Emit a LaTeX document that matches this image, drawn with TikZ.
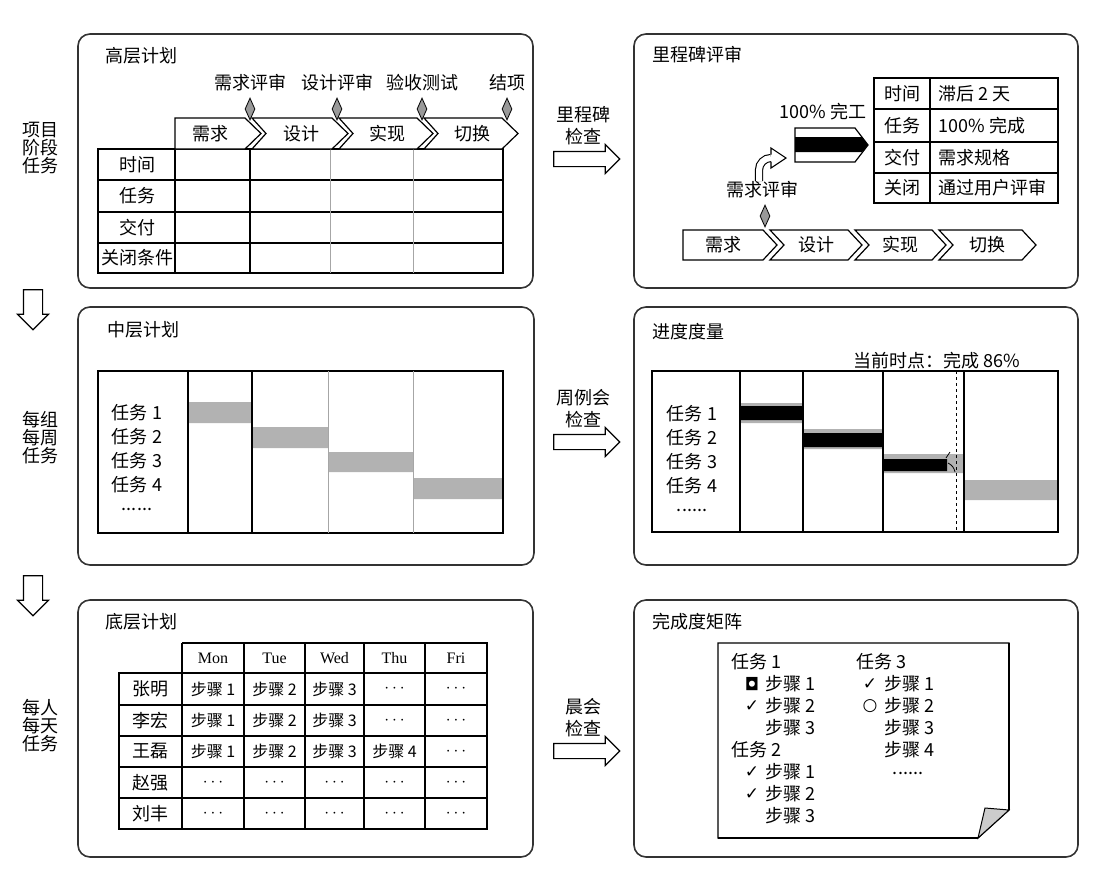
\documentclass[tikz,border=0pt]{standalone}
\usepackage{fontspec}
\setmainfont{Noto Sans CJK SC}
\newfontfamily\lat{Liberation Serif}
\newfontfamily\sym{DejaVu Sans}
\usetikzlibrary{arrows.meta,calc,positioning,shapes.geometric,shapes.arrows}
\newcommand{\dts}{$\cdots$}

\begin{document}
\begin{tikzpicture}[x=1pt, y=-1pt, >=Stealth, line width=1.2pt,
    font=\fontsize{18}{20}\selectfont,
    panel/.style={draw=black!80, line width=1.6pt, rounded corners=12pt},
    ttl/.style={anchor=west, inner sep=0pt},
    lbl/.style={align=center, inner sep=0pt, font=\fontsize{18}{18}\selectfont},
    chklbl/.style={align=center, inner sep=0pt, font=\fontsize{18}{22}\selectfont},
    ms/.style={diamond, draw, fill=gray!80, line width=0.8pt, minimum width=10pt, minimum height=22pt, inner sep=0pt},
    chk/.style={single arrow, draw, line width=1.2pt, minimum height=66pt, inner sep=7pt, single arrow head extend=7pt},
    dn/.style={chk, shape border rotate=270, minimum height=40pt, inner sep=9pt, single arrow head extend=6pt},
    cell/.style={font=\fontsize{16}{18}\selectfont},
    thin/.style={gray!70, line width=0.8pt}]
    \useasboundingbox (0,0) rectangle (1100,892);

    % left side: levels
    \node[lbl] (lv1) at (40,148) {项目\\阶段\\任务};
    \node[dn] (d1) at (33,305) {};
    \node[lbl] (lv2) at (40,438) {每组\\每周\\任务};
    \node[dn] (d2) at (33,591) {};
    \node[lbl] (lv3) at (40,726) {每人\\每天\\任务};

    % checks in the middle
    \node[chk] (ck1) at (583,159) {};
    \node[chklbl, above=5pt of ck1] (ckl1) {里程碑\\检查};
    \node[chk] (ck2) at (583,442) {};
    \node[chklbl, above=5pt of ck2] (ckl2) {周例会\\检查};
    \node[chk] (ck3) at (583,751) {};
    \node[chklbl, above=5pt of ck3] (ckl3) {晨会\\检查};

    % high level plan
    \draw[panel] (78,34) rectangle (533,288);
    \node[ttl] (t1) at (105,56) {高层计划};
    \draw (98,149) rectangle (503,273);
    \foreach \y in {180,212,243} \draw (98,\y) -- (503,\y);
    \draw (175,149) -- (175,273) (250,149) -- (250,273);
    \draw[thin] (330,149) -- (330,273) (413,149) -- (413,273);
    \foreach \t/\y [count=\i] in {时间/164.5, 任务/196, 交付/227.5, 关闭条件/258}
        \node (r\i) at (137,\y) {\t};
    \foreach \a/\b/\n/\t [count=\i] in {175/245/0/需求, 252/332/14/设计, 339/417/14/实现, 424/502/14/切换} {
        \draw[fill=white] (\a,118) -- (\b,118) -- (\b+16,133.5) -- (\b,149) -- (\a,149) -- (\a+\n,133.5) -- cycle;
        \node (ph\i) at ({(\a+\b)/2+\n*0.7},133.5) {\t};
    }
    \foreach \x/\t [count=\i] in {250/需求评审, 337/设计评审, 422/验收测试, 507/结项} {
        \node[ms] (m\i) at (\x,109) {};
        \node (ml\i) at (\x,83) {\t};
    }

    % milestone review
    \draw[panel] (634,34) rectangle (1078,288);
    \node[ttl] (t2) at (652,55) {里程碑评审};
    \draw[line width=1.6pt] (874,78) rectangle (1058,203);
    \foreach \y in {109,142,173} \draw (874,\y) -- (1058,\y);
    \draw (930,78) -- (930,203);
    \foreach \k/\v/\y [count=\i] in {时间/滞后 2 天/93.5, 任务/100\% 完成/125.5, 交付/需求规格/157.5, 关闭/通过用户评审/188} {
        \node (rk\i) at (902,\y) {\k};
        \node[anchor=west] (rv\i) at (935,\y) {\v};
    }
    \node (fin) at (823,112) {100\% 完工};
    \draw[fill=white] (795,128) -- (855,128) -- (868,145) -- (855,162) -- (795,162) -- cycle;
    \fill (795,137) -- (862,137) -- (868,145) -- (862,152) -- (795,152) -- cycle;
    \draw[double distance=6pt, line width=1.1pt] (759,181) -- (759,170) to[out=90,in=180] (771,158);
    \draw[fill=white, line width=1.1pt] (771,154.5) -- (771,148) -- (786,158) -- (771,168) -- (771,161.5);
    \node (rq) at (762,190) {需求评审};
    \node[ms] (m5) at (765,216) {};
    \foreach \a/\b/\n/\t [count=\i] in {683/763/0/需求, 770/848/14/设计, 855/932/14/实现, 939/1022/14/切换} {
        \draw[fill=white] (\a,230) -- (\b,230) -- (\b+14,245) -- (\b,260) -- (\a,260) -- (\a+\n,245) -- cycle;
        \node (pq\i) at ({(\a+\b)/2+\n*0.5},245) {\t};
    }

    % mid level plan
    \draw[panel] (78,307) rectangle (534,565);
    \node[ttl] (t3) at (107,330) {中层计划};
    \fill[gray!60] (188,402) rectangle (252,423) (252,427) rectangle (328,448)
        (328,452) rectangle (413,472) (413,478) rectangle (503,499);
    \draw (98,371) rectangle (503,533);
    \draw (188,371) -- (188,533) (252,371) -- (252,533);
    \draw[thin] (328,371) -- (328,533) (413,371) -- (413,533);
    \foreach \t [count=\i] in {任务 1, 任务 2, 任务 3, 任务 4}
        \node (pa\i) at (137,389+24*\i) {\t};
    \node (pa5) at (137,509) {......};

    % progress
    \draw[panel] (634,307) rectangle (1078,565);
    \node[ttl] (t4) at (652,332) {进度度量};
    \node (now) at (937,361) {当前时点：完成 86\%};
    \fill[gray!60] (740,403) rectangle (803,423) (803,429) rectangle (883,449)
        (883,454) rectangle (964,473) (964,480) rectangle (1058,500);
    \fill (740,406) rectangle (803,420) (803,433) rectangle (883,447) (883,459) rectangle (947,471);
    \draw (652,371) rectangle (1058,532);
    \foreach \x in {740,803,883,964} \draw (\x,371) -- (\x,532);
    \draw[dashed, line width=1pt] (956,371) -- (956,532);
    \draw[line width=0.8pt] (946,458) -- (950,452) (948,463) to[bend left=25] (955,472);
    \foreach \t [count=\i] in {任务 1, 任务 2, 任务 3, 任务 4}
        \node (pb\i) at (692,390+24*\i) {\t};
    \node (pb5) at (692,510) {......};

    % low level plan
    \draw[panel] (78,600) rectangle (533,857);
    \node[ttl] (t5) at (105,622) {底层计划};
    \draw (182,643) -- (487,643) -- (487,829) -- (119,829) -- (119,673) -- (182,673);
    \draw (182,643) -- (182,829);
    \foreach \x in {244,305,364,425} \draw (\x,643) -- (\x,829);
    \foreach \y in {673,705,736,767,798} \draw (119,\y) -- (487,\y);
    \foreach \d/\x [count=\i] in {Mon/213, Tue/274.5, Wed/334.5, Thu/394.5, Fri/456}
        \node[font=\lat\fontsize{16}{18}\selectfont] (dy\i) at (\x,658) {\d};
    \foreach \n/\pa/\pb/\pc/\pd/\pe [count=\r] in {张明/步骤 1/步骤 2/步骤 3/\dts/\dts,
        李宏/步骤 1/步骤 2/步骤 3/\dts/\dts, 王磊/步骤 1/步骤 2/步骤 3/步骤 4/\dts,
        赵强/\dts/\dts/\dts/\dts/\dts, 刘丰/\dts/\dts/\dts/\dts/\dts} {
        \node (nm\r) at (150.5,658+31.1*\r) {\n};
        \foreach \t/\x [count=\k] in {\pa/213, \pb/274.5, \pc/334.5, \pd/394.5, \pe/456}
            \node[cell] (s\r-\k) at (\x,658+31.1*\r) {\t};
    }

    % completion matrix
    \draw[panel] (634,600) rectangle (1078,857);
    \node[ttl] (t6) at (652,622) {完成度矩阵};
    \draw[fill=white] (718,643) -- (1009,643) -- (1009,810) -- (978,838) -- (718,838) -- cycle;
    \draw[line width=2.2pt] (1009,643) -- (1009,810) (978,838) -- (718,838);
    \draw[fill=gray!40, line width=1pt] (978,838) -- (985,808) -- (1009,810) -- cycle;
    \node[anchor=west] (ga) at (728,662) {任务 1};
    \node[anchor=west] (gb) at (728,750) {任务 2};
    \node[anchor=west] (gc) at (853,662) {任务 3};
    \foreach \y/\t [count=\i] in {684/步骤 1, 706/步骤 2, 728/步骤 3, 772/步骤 1, 794/步骤 2, 816/步骤 3}
        \node[anchor=west] (sa\i) at (762,\y) {\t};
    \foreach \y/\t [count=\i] in {684/步骤 1, 706/步骤 2, 728/步骤 3, 750/步骤 4}
        \node[anchor=west] (sc\i) at (881,\y) {\t};
    \node[inner sep=0pt] (sc5) at (908,773) {......};
    \foreach \x/\y/\m [count=\i] in {752/684/◘, 752/706/✓, 752/772/✓, 752/794/✓, 870/684/✓, 870/706/○}
        \node[font=\sym\bfseries\fontsize{17}{18}\selectfont] (mk\i) at (\x,\y) {\m};
\end{tikzpicture}
\end{document}
